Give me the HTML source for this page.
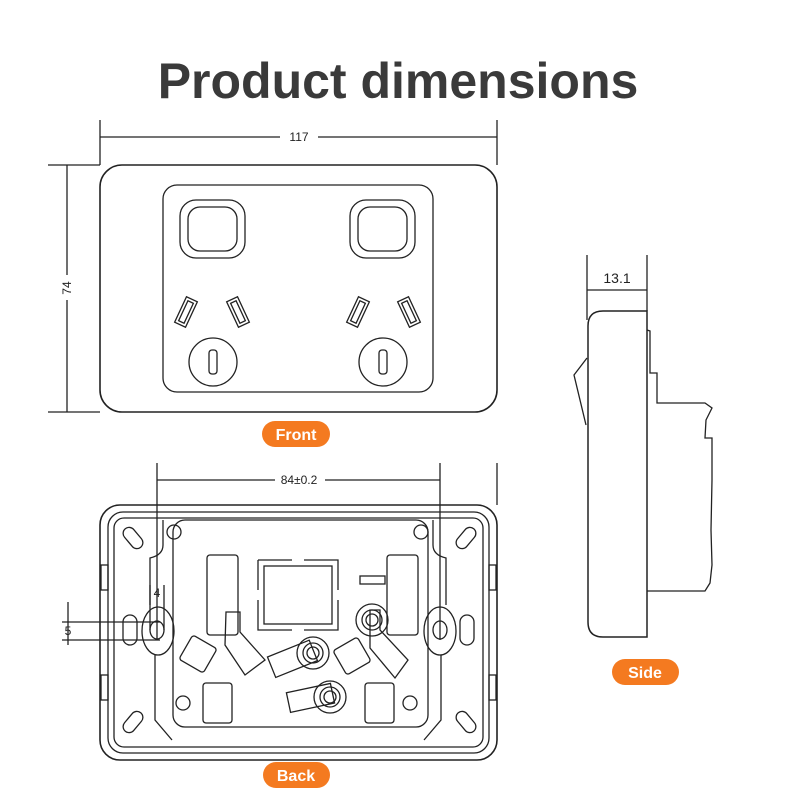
<!DOCTYPE html>
<html><head><meta charset="utf-8"><style>
body{margin:0;background:#fff;width:800px;height:800px;overflow:hidden}
svg{display:block}
.t{font-family:"Liberation Sans",sans-serif}
</style></head><body>
<svg width="800" height="800" viewBox="0 0 800 800" xmlns="http://www.w3.org/2000/svg">
<text x="398" y="98" text-anchor="middle" class="t" font-size="50" font-weight="bold" fill="#3a3a3a">Product dimensions</text>
<g fill="none" stroke="#222" stroke-width="1.3">
<!-- front dims -->
<line x1="100" y1="120" x2="100" y2="165"/><line x1="497" y1="120" x2="497" y2="165"/>
<line x1="100" y1="137" x2="280" y2="137"/><line x1="318" y1="137" x2="497" y2="137"/>
<line x1="48" y1="165" x2="100" y2="165"/><line x1="48" y1="412" x2="100" y2="412"/>
<line x1="67" y1="165" x2="67" y2="275"/><line x1="67" y1="300" x2="67" y2="412"/>
<!-- front plate -->
<rect x="100" y="165" width="397" height="247" rx="22" stroke-width="1.6"/>
<rect x="163" y="185" width="270" height="207" rx="14"/>
<rect x="180" y="200" width="65" height="58" rx="16"/><rect x="188" y="207" width="49" height="44" rx="12"/>
<rect x="350" y="200" width="65" height="58" rx="16"/><rect x="358" y="207" width="49" height="44" rx="12"/>
<g transform="rotate(25 186 312)"><rect x="180" y="298" width="12" height="28"/><rect x="183" y="301" width="6" height="22"/></g>
<g transform="rotate(-25 238 312)"><rect x="232" y="298" width="12" height="28"/><rect x="235" y="301" width="6" height="22"/></g>
<g transform="rotate(25 358 312)"><rect x="352" y="298" width="12" height="28"/><rect x="355" y="301" width="6" height="22"/></g>
<g transform="rotate(-25 409 312)"><rect x="403" y="298" width="12" height="28"/><rect x="406" y="301" width="6" height="22"/></g>
<circle cx="213" cy="362" r="24"/><rect x="209" y="350" width="8" height="24" rx="3"/>
<circle cx="383" cy="362" r="24"/><rect x="379" y="350" width="8" height="24" rx="3"/>
<!-- side -->
<line x1="587" y1="255" x2="587" y2="320"/><line x1="647" y1="255" x2="647" y2="311"/>
<line x1="587" y1="290" x2="647" y2="290"/>
<path d="M603 311 H647 V637 H603 Q588 637 588 622 V326 Q588 311 603 311 Z" stroke-width="1.5"/>
<path d="M587 358 L574 375 L586 425"/>
<path d="M647 330 L650 331 V373 H657 V403 H705 L712 408 L706 420 L705 438 H712 V480 L711 530 L712 565 L710 583 L705 591 H647"/>
<!-- back dims -->
<line x1="157" y1="463" x2="157" y2="640"/><line x1="440" y1="463" x2="440" y2="640"/><line x1="497" y1="463" x2="497" y2="505"/>
<line x1="157" y1="480" x2="275" y2="480"/><line x1="325" y1="480" x2="440" y2="480"/>
<line x1="68" y1="602" x2="68" y2="645"/><line x1="62" y1="622" x2="160" y2="622"/><line x1="62" y1="640" x2="160" y2="640"/>
<line x1="150" y1="585" x2="150" y2="630"/><line x1="164" y1="585" x2="164" y2="630"/>
<!-- back plate -->
<rect x="100" y="505" width="397" height="255" rx="20" stroke-width="1.6"/>
<rect x="108" y="512" width="381" height="241" rx="15"/>
<rect x="114" y="518" width="369" height="229" rx="10"/>
<path d="M163 520 V545 Q163 555 150 558 V605 M433 520 V545 Q433 555 446 558 V605"/>
<path d="M155 655 V720 L172 740 M441 655 V720 L424 740"/>
<rect x="173" y="520" width="255" height="207" rx="12"/>
<circle cx="174" cy="532" r="7"/><circle cx="421" cy="532" r="7"/><circle cx="183" cy="703" r="7"/><circle cx="410" cy="703" r="7"/>
<g transform="rotate(-40 133 538)"><rect x="127" y="526" width="12" height="24" rx="6"/></g>
<g transform="rotate(40 466 538)"><rect x="460" y="526" width="12" height="24" rx="6"/></g>
<g transform="rotate(40 133 722)"><rect x="127" y="710" width="12" height="24" rx="6"/></g>
<g transform="rotate(-40 466 722)"><rect x="460" y="710" width="12" height="24" rx="6"/></g>
<ellipse cx="158" cy="631" rx="16" ry="24"/><ellipse cx="157" cy="630" rx="7" ry="9"/>
<ellipse cx="440" cy="631" rx="16" ry="24"/><ellipse cx="440" cy="630" rx="7" ry="9"/>
<rect x="123" y="615" width="14" height="30" rx="7"/><rect x="460" y="615" width="14" height="30" rx="7"/>
<rect x="101" y="565" width="7" height="25"/><rect x="101" y="675" width="7" height="25"/>
<rect x="489" y="565" width="7" height="25"/><rect x="489" y="675" width="7" height="25"/>
<rect x="207" y="555" width="31" height="80" rx="3"/><rect x="387" y="555" width="31" height="80" rx="3"/>
<path d="M258 560 H292 M304 560 H338 V590 M338 600 V630 H304 M292 630 H258 V600 M258 590 V560"/>
<rect x="264" y="566" width="68" height="58"/>
<rect x="184" y="640" width="28" height="28" rx="3" transform="rotate(30 198 654)"/>
<path d="M226 612 H240 V632 L265 660 L245 675 L225 645 Z"/>
<rect x="338" y="642" width="28" height="28" rx="3" transform="rotate(-30 352 656)"/>
<path d="M380 610 V630 L408 660 L395 678 L370 648 V610 Z"/>
<rect x="270" y="648" width="45" height="22" transform="rotate(-22 292 659)"/>
<rect x="288" y="688" width="45" height="20" transform="rotate(-12 310 698)"/>
<circle cx="313" cy="653" r="16"/><circle cx="313" cy="653" r="10"/><circle cx="313" cy="653" r="6"/>
<circle cx="372" cy="620" r="16"/><circle cx="372" cy="620" r="10"/><circle cx="372" cy="620" r="6"/>
<circle cx="330" cy="697" r="16"/><circle cx="330" cy="697" r="10"/><circle cx="330" cy="697" r="6"/>
<rect x="203" y="683" width="29" height="40" rx="3"/><rect x="365" y="683" width="29" height="40" rx="3"/>
<rect x="360" y="576" width="25" height="8"/>
</g>
<g class="t" fill="#222" font-size="12">
<text x="299" y="141" text-anchor="middle">117</text>
<text x="71" y="288" text-anchor="middle" transform="rotate(-90 71 288)">74</text>
<text x="617" y="283" text-anchor="middle" font-size="14">13.1</text>
<text x="299" y="484" text-anchor="middle">84±0.2</text>
<text x="157" y="597" text-anchor="middle">4</text>
<text x="68" y="635" text-anchor="middle">5</text>
</g>
<g class="t" font-size="16" font-weight="bold" fill="#fff" text-anchor="middle">
<rect x="262" y="421" width="68" height="26" rx="13" fill="#f47a20"/><text x="296" y="440">Front</text>
<rect x="612" y="659" width="67" height="26" rx="13" fill="#f47a20"/><text x="645" y="678">Side</text>
<rect x="263" y="762" width="67" height="26" rx="13" fill="#f47a20"/><text x="296" y="781">Back</text>
</g>
</svg>
</body></html>
